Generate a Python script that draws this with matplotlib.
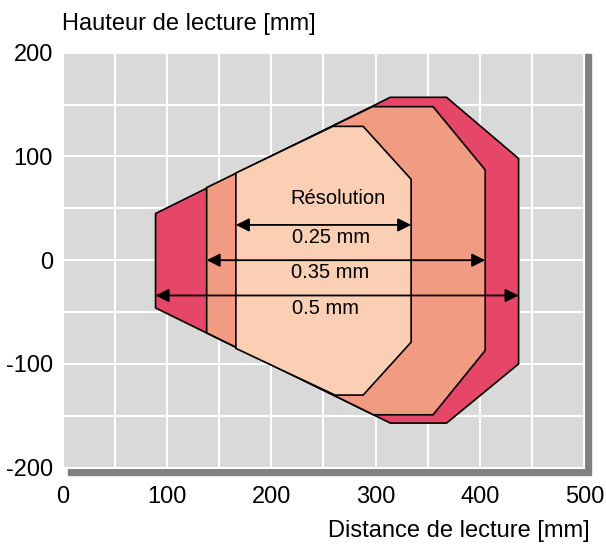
import matplotlib
matplotlib.use("Agg")
import matplotlib.pyplot as plt
from matplotlib.patches import Rectangle

plt.rcParams['font.family'] = ['Liberation Sans', 'DejaVu Sans']
plt.rcParams['axes.unicode_minus'] = False

# reading zones (outline of each zone, mm)
outer_x = [89, 314, 368, 437, 437, 368, 314, 89]
outer_y = [45, 157, 157, 98, -100, -157, -157, -46]
middle_x = [138, 297, 355, 405, 405, 355, 298, 138]
middle_y = [70, 148, 148, 87, -87, -149, -149, -70]
inner_x = [166, 259, 288, 334, 334, 288, 261, 166]
inner_y = [84, 129, 129, 78, -79, -130, -130, -85]

# resolution arrows
res_labels = ['0.25 mm', '0.35 mm', '0.5 mm']
arrow_y = [34, 0, -34]
arrow_left = [166, 138, 89]
arrow_right = [334, 405, 437]
label_x = [257, 256, 252]
label_y = [22, -12, -47]

xticks = [0, 100, 200, 300, 400, 500]
yticks = [-200, -100, 0, 100, 200]

fig = plt.figure(figsize=(6.06, 5.44), dpi=100)
ax = fig.add_axes([62.7 / 606, 1 - 467.7 / 544, 521.6 / 606, 415 / 544])

# drop shadow behind the plot area
fig.patches.append(Rectangle((68 / 606, 1 - 475 / 544), (591 - 68) / 606, (475 - 54) / 544,
                             transform=fig.transFigure, color='#808080', zorder=-1))

ax.set_facecolor('#d9d9d9')
ax.set_xlim(0, 500)
ax.set_ylim(-200, 200)
ax.set_xticks(xticks)
ax.set_yticks(yticks)
ax.set_xticks(range(0, 501, 50), minor=True)
ax.set_yticks(range(-200, 201, 50), minor=True)
ax.tick_params(which='both', length=0, labelsize=17)
ax.tick_params(axis='x', pad=13)
ax.tick_params(axis='y', pad=7)
ax.grid(True, which='both', color='white', lw=1.5)
ax.set_axisbelow(True)
for s in ax.spines.values():
    s.set_color('white')
    s.set_linewidth(1.5)

ax.fill(outer_x, outer_y, facecolor='#e64768', edgecolor='black', lw=1.2, zorder=2)
ax.fill(middle_x, middle_y, facecolor='#f19b82', edgecolor='black', lw=1.2, zorder=3)
ax.fill(inner_x, inner_y, facecolor='#fbcfb4', edgecolor='black', lw=1.2, zorder=4)

for lab, y, x0, x1, tx, ty in zip(res_labels, arrow_y, arrow_left, arrow_right, label_x, label_y):
    ax.annotate('', xy=(x1, y), xytext=(x0, y),
                arrowprops=dict(arrowstyle='<|-|>', color='black', lw=1.3,
                                mutation_scale=20, shrinkA=0, shrinkB=0), zorder=5)
    ax.text(tx, ty, lab, ha='center', va='center', fontsize=14.5, zorder=6)

ax.text(264, 59, 'Résolution', ha='center', va='center', fontsize=14.5, zorder=6)

fig.text(62 / 606, 1 - 30 / 544, 'Hauteur de lecture [mm]', ha='left', va='baseline', fontsize=17)
fig.text(590 / 606, 1 - 537 / 544, 'Distance de lecture [mm]', ha='right', va='baseline', fontsize=17)

fig.savefig('out.png', dpi=100)
